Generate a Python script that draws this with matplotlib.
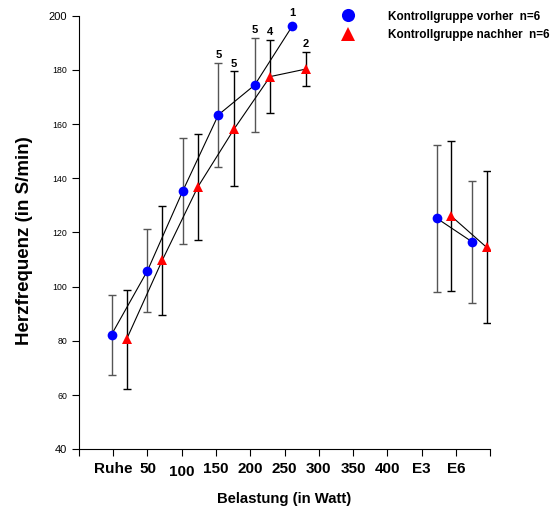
import matplotlib as mpl
mpl.use('Agg')
import matplotlib.pyplot as plt
import matplotlib.transforms as mtransforms
import numpy as np

plt.rcParams['font.family'] = ['Liberation Sans', 'DejaVu Sans']

## Data

tick_labels = ['Ruhe', '50', '100', '150', '200', '250', '300', '350', '400', 'E3', 'E6']

# x positions in axis units (tick i = category i)
x_vorher = [0.95, 2.0, 3.03, 4.07, 5.13, 6.22, 10.45, 11.48]
y_vorher = [82.3, 105.9, 135.3, 163.4, 174.4, 196.0, 125.2, 116.5]
sd_vorher = [14.8, 15.3, 19.7, 19.3, 17.5, 0.0, 27.0, 22.6]
n_vorher = [6, 6, 6, 5, 5, 1, 6, 6]

x_nachher = [1.39, 2.43, 3.47, 4.53, 5.58, 6.63, 10.86, 11.9]
y_nachher = [80.6, 109.7, 136.8, 158.2, 177.5, 180.3, 126.1, 114.5]
sd_nachher = [18.3, 20.0, 19.6, 21.2, 13.5, 6.4, 27.7, 28.0]
n_nachher = [6, 6, 6, 5, 4, 2, 6, 6]

n_exercise = 6  # first six points are the exercise stages, the rest recovery

## Plot

fig = plt.figure(figsize=(5.5, 5.12), dpi=100)
ax = fig.add_axes([0.1436, 0.1225, 0.7474, 0.847])

def draw(x, y, sd, n, color, ecolor, marker, ms, label):
    x, y, sd = np.array(x), np.array(y), np.array(sd)
    for seg in (slice(0, n_exercise), slice(n_exercise, None)):
        ax.plot(x[seg], y[seg], color='black', lw=0.8, zorder=2)
    has = sd > 0
    ax.errorbar(x[has], y[has], yerr=sd[has], fmt='none', ecolor=ecolor,
                elinewidth=1.0, capsize=2.8, capthick=1.0, zorder=1)
    ax.plot(x, y, linestyle='none', marker=marker, color=color, ms=ms,
            markeredgewidth=0, zorder=3, label=label)
    for xi, yi, si, ni in zip(x, y, sd, n):
        if ni < 6:
            top = yi + si if si > 0 else yi + 2
            ax.annotate(str(ni), (xi, top), xytext=(0, 2), textcoords='offset points',
                        ha='center', va='bottom', fontsize=8, fontweight='bold')

draw(x_vorher, y_vorher, sd_vorher, n_vorher, 'blue', '#555555', 'o', 7,
     'Kontrollgruppe vorher  n=6')
draw(x_nachher, y_nachher, sd_nachher, n_nachher, 'red', 'black', '^', 7.5,
     'Kontrollgruppe nachher  n=6')

ax.set_xlim(0, 12)
ax.set_ylim(40, 200)
ax.set_xticks(np.arange(0, 13))
ax.set_xticklabels([''] + tick_labels + [''], fontsize=11, fontweight='bold')
ax.set_yticks(np.arange(40, 201, 20))
ax.tick_params(axis='y', labelsize=6.3, length=5, width=0.8, direction='out')
ax.tick_params(axis='x', length=5, width=0.8, direction='out', pad=4.5)
# end labels of the y axis are set a bit larger, as in the original
ylabels = ax.get_yticklabels()
ylabels[0].set_fontsize(8)
ylabels[-1].set_fontsize(8)
# the "100" label sits a little lower in the original
lab100 = ax.get_xticklabels()[3]
lab100.set_transform(lab100.get_transform() +
                     mtransforms.ScaledTranslation(0, -2.5 / 100, fig.dpi_scale_trans))
for s in ['top', 'right']:
    ax.spines[s].set_visible(False)
for s in ['left', 'bottom']:
    ax.spines[s].set_linewidth(0.8)

ax.set_xlabel('Belastung (in Watt)', fontsize=10.7, fontweight='bold')
ax.set_ylabel('Herzfrequenz (in S/min)', fontsize=13.5, fontweight='bold')
ax.xaxis.set_label_coords(0.5, -0.0985)
ax.yaxis.set_label_coords(-0.1127, 0.48)

leg = fig.legend(loc='upper left', bbox_to_anchor=(0.603, 1.0), frameon=False,
                 prop={'size': 8.5, 'weight': 'bold'}, markerscale=1.35,
                 handlelength=1.0, handletextpad=2.85, labelspacing=0.55)

fig.savefig('out.png', dpi=100)
